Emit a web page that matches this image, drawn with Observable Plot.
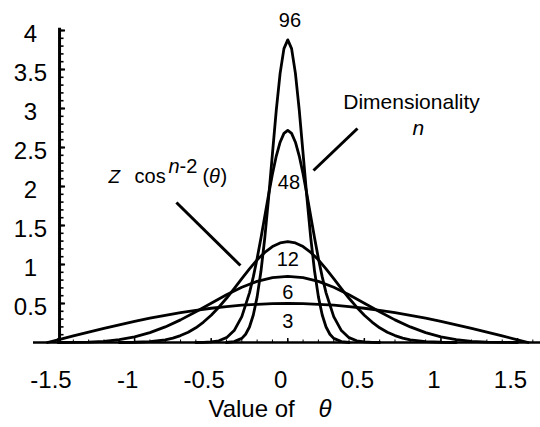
<!DOCTYPE html>
<html>
<head>
<meta charset="utf-8">
<script src="https://cdn.jsdelivr.net/npm/d3@7"></script>
<script src="https://cdn.jsdelivr.net/npm/@observablehq/plot@0.6"></script>
<style>
  html, body { margin: 0; padding: 0; background: #fff; }
</style>
</head>
<body>
<div id="chart"></div>
<script>
// Dimensionality n of each curve
const dimensions = [3, 6, 12, 48, 96];

// Curve n = 3
const theta3 = [-1.57,-1.5,-1.4,-1.3,-1.2,-1.1,-1.0,-0.9,-0.8,-0.7,-0.6,-0.5,-0.4,-0.3,-0.2,-0.1,0,
                0.1,0.2,0.3,0.4,0.5,0.6,0.7,0.8,0.9,1.0,1.1,1.2,1.3,1.4,1.5,1.57];
const dens3  = [0,0.035,0.085,0.134,0.181,0.227,0.270,0.311,0.348,0.382,0.413,0.439,0.461,0.478,0.490,0.498,0.500,
                0.498,0.490,0.478,0.461,0.439,0.413,0.382,0.348,0.311,0.270,0.227,0.181,0.134,0.085,0.035,0];

// Curve n = 6
const theta6 = [-1.5,-1.4,-1.3,-1.2,-1.1,-1.0,-0.9,-0.8,-0.7,-0.6,-0.5,-0.4,-0.3,-0.2,-0.1,0,
                0.1,0.2,0.3,0.4,0.5,0.6,0.7,0.8,0.9,1.0,1.1,1.2,1.3,1.4,1.5];
const dens6  = [0,0.001,0.004,0.015,0.036,0.072,0.127,0.200,0.290,0.394,0.503,0.611,0.708,0.784,0.832,0.849,
                0.832,0.784,0.708,0.611,0.503,0.394,0.290,0.200,0.127,0.072,0.036,0.015,0.004,0.001,0];

// Curve n = 12
const theta12 = [-1.1,-1.0,-0.9,-0.8,-0.75,-0.7,-0.65,-0.6,-0.55,-0.5,-0.45,-0.4,-0.35,-0.3,-0.25,-0.2,-0.15,-0.1,-0.05,0,
                 0.05,0.1,0.15,0.2,0.25,0.3,0.35,0.4,0.45,0.5,0.55,0.6,0.65,0.7,0.75,0.8,0.9,1.0,1.1];
const dens12  = [0,0.003,0.011,0.035,0.057,0.089,0.132,0.189,0.262,0.350,0.453,0.567,0.692,0.820,0.943,1.060,1.155,1.230,1.277,1.293,
                 1.277,1.230,1.155,1.060,0.943,0.820,0.692,0.567,0.453,0.350,0.262,0.189,0.132,0.089,0.057,0.035,0.011,0.003,0];

// Curve n = 48
const theta48 = [-0.6,-0.55,-0.5,-0.45,-0.4,-0.35,-0.3,-0.25,-0.225,-0.2,-0.175,-0.15,-0.125,-0.1,-0.075,-0.05,-0.025,0,
                 0.025,0.05,0.075,0.1,0.125,0.15,0.175,0.2,0.225,0.25,0.3,0.35,0.4,0.45,0.5,0.55,0.6];
const dens48  = [0,0.002,0.007,0.022,0.062,0.153,0.332,0.637,0.841,1.077,1.340,1.618,1.897,2.161,2.390,2.568,2.681,2.720,
                 2.681,2.568,2.390,2.161,1.897,1.618,1.340,1.077,0.841,0.637,0.332,0.153,0.062,0.022,0.007,0.002,0];

// Curve n = 96
const theta96 = [-0.4,-0.35,-0.3,-0.275,-0.25,-0.225,-0.2,-0.175,-0.15,-0.125,-0.1,-0.075,-0.05,-0.025,0,
                 0.025,0.05,0.075,0.1,0.125,0.15,0.175,0.2,0.225,0.25,0.275,0.3,0.35,0.4];
const dens96  = [0,0.011,0.053,0.106,0.199,0.352,0.585,0.913,1.342,1.858,2.423,2.978,3.450,3.768,3.880,
                 3.768,3.450,2.978,2.423,1.858,1.342,0.913,0.585,0.352,0.199,0.106,0.053,0.011,0];

// Axis ticks
const xTicks = [-1.5, -1, -0.5, 0, 0.5, 1, 1.5];
const xTickLabels = ["-1.5", "-1", "-0.5", "0", "0.5", "1", "1.5"];
const yTicks = [0.5, 1, 1.5, 2, 2.5, 3, 3.5, 4];
const yTickLabels = ["0.5", "1", "1.5", "2", "2.5", "3", "3.5", "4"];
const yMinorTicks = d3.range(1, 41).map(i => i / 10);
const xMinorTicks = d3.range(-14, 17).map(i => i / 10);

const curves = [
  {n: dimensions[0], theta: theta3, dens: dens3},
  {n: dimensions[1], theta: theta6, dens: dens6},
  {n: dimensions[2], theta: theta12, dens: dens12},
  {n: dimensions[3], theta: theta48, dens: dens48},
  {n: dimensions[4], theta: theta96, dens: dens96}
];
const rows = curves.flatMap(c => c.theta.map((t, i) => ({n: c.n, theta: t, dens: c.dens[i]})));

const font = "'Liberation Sans', Arial, Helvetica, sans-serif";
const yAxisX = -1.49;

const note = (t, x, y, o = {}) =>
  Plot.text([t], {x, y, text: d => d, lineAnchor: "bottom", fontSize: 20, ...o});

const zx = -1.17, zy = 2.05;

const chart = Plot.plot({
  width: 540,
  height: 427,
  marginTop: 30,
  marginBottom: 85,
  marginLeft: 33,
  marginRight: 0,
  x: {domain: [-1.66, 1.65]},
  y: {domain: [0, 4]},
  style: {fontFamily: font, background: "white", color: "black", overflow: "visible"},
  marks: [
    // axis lines
    Plot.ruleY([0], {x1: -1.66, x2: 1.65, strokeWidth: 2.6}),
    Plot.ruleX([yAxisX], {y1: 0, y2: 4.03, strokeWidth: 3}),
    // y ticks (inside)
    Plot.ruleY(yMinorTicks, {y: d => d, x1: yAxisX, x2: yAxisX, insetRight: -4.5, strokeWidth: 1.6}),
    Plot.ruleY(yTicks, {y: d => d, x1: yAxisX, x2: yAxisX, insetRight: -6, strokeWidth: 2}),
    // x ticks (inside)
    Plot.ruleX(xMinorTicks, {x: d => d, y1: 0, y2: 0, insetTop: -2.5, strokeWidth: 1}),
    Plot.ruleX(xTicks, {x: d => d, y1: 0, y2: 0, insetTop: -4, strokeWidth: 1.5}),
    // axes labels
    Plot.axisY({ticks: yTicks, tickSize: 0, tickPadding: 3, textAnchor: "middle", fontSize: 24, dy: 4,
                tickFormat: d => yTickLabels[yTicks.indexOf(d)], label: null}),
    Plot.axisX({ticks: xTicks, tickSize: 0, tickPadding: 28, fontSize: 24, dx: -7,
                tickFormat: d => xTickLabels[xTicks.indexOf(d)], label: null}),
    // curves
    Plot.line(rows, {x: "theta", y: "dens", z: "n", stroke: "black", strokeWidth: 2.8,
                     strokeLinejoin: "round", strokeLinecap: "round"}),
    // curve labels
    note(String(dimensions[4]), 0.014, 4.04),
    note(String(dimensions[3]), 0.008, 1.974),
    note(String(dimensions[2]), 0, 0.987),
    note(String(dimensions[1]), 0, 0.564),
    note(String(dimensions[0]), 0, 0.192),
    // Dimensionality n
    note("Dimensionality", 0.808, 3.0, {fontSize: 21}),
    note("n", 0.853, 2.654, {fontSize: 21, fontStyle: "italic"}),
    Plot.link([0], {x1: 0.455, y1: 2.744, x2: 0.168, y2: 2.205, strokeWidth: 3}),
    // Z cos^{n-2}(θ)
    note("Z", zx, zy, {textAnchor: "start", fontStyle: "italic", fontSize: 19}),
    note("cos", zx, zy, {textAnchor: "start", dx: 26}),
    note("n", zx, zy, {textAnchor: "start", dx: 60, dy: -10, fontStyle: "italic"}),
    note("-2", zx, zy, {textAnchor: "start", dx: 71, dy: -10}),
    note("(", zx, zy, {textAnchor: "start", dx: 94}),
    note("θ", zx, zy, {textAnchor: "start", dx: 100.5, fontStyle: "italic"}),
    note(")", zx, zy, {textAnchor: "start", dx: 112}),
    Plot.link([0], {x1: -0.727, y1: 1.795, x2: -0.309, y2: 0.987, strokeWidth: 3}),
    // x axis title
    note("Value of", -0.518, -0.949, {textAnchor: "start", fontSize: 24}),
    note("θ", 0.200, -0.949, {textAnchor: "start", fontSize: 24, fontStyle: "italic"})
  ]
});
document.getElementById("chart").appendChild(chart);
</script>
</body>
</html>
